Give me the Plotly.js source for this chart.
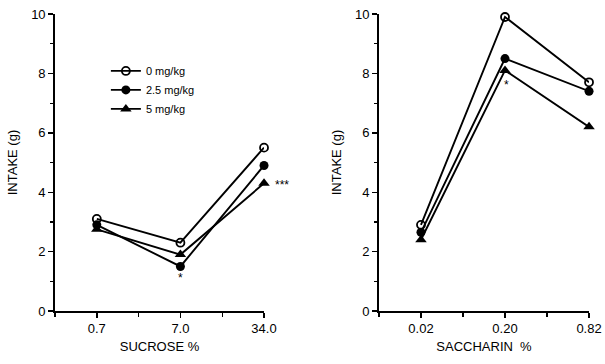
<!DOCTYPE html>
<html>
<head>
<meta charset="utf-8">
<script src="https://cdn.plot.ly/plotly-3.0.1.min.js"></script>
<style>html,body{margin:0;padding:0;background:#fff;}#chart{width:605px;height:364px;}</style>
</head>
<body>
<div id="chart"></div>
<script>
const sucroseCats = ["0.7", "7.0", "34.0"];
const saccharinCats = ["0.02", "0.20", "0.82"];
const seriesNames = ["0 mg/kg", "2.5 mg/kg", "5 mg/kg"];
const sucrose0 = [3.1, 2.3, 5.5];
const sucrose25 = [2.9, 1.5, 4.9];
const sucrose5 = [2.75, 1.9, 4.3];
const saccharin0 = [2.9, 9.9, 7.7];
const saccharin25 = [2.65, 8.5, 7.4];
const saccharin5 = [2.4, 8.1, 6.2];
const yTicks = [0, 2, 4, 6, 8, 10];

const markerStyles = [
  {symbol: "circle-open", size: 8, color: "black", line: {width: 1.8, color: "black"}},
  {symbol: "circle", size: 9, color: "black"},
  {symbol: "triangle-up", size: 10, color: "black"}
];
const idx = sucroseCats.map((c, i) => i);
const leftSets = [sucrose0, sucrose25, sucrose5];
const rightSets = [saccharin0, saccharin25, saccharin5];
const traces = [];
leftSets.forEach((ys, k) => traces.push({
  x: idx, y: ys, xaxis: "x", yaxis: "y", type: "scatter", mode: "lines+markers",
  name: seriesNames[k], line: {color: "black", width: 1.9}, marker: markerStyles[k],
  showlegend: true, cliponaxis: false
}));
rightSets.forEach((ys, k) => traces.push({
  x: idx, y: ys, xaxis: "x2", yaxis: "y2", type: "scatter", mode: "lines+markers",
  name: seriesNames[k], line: {color: "black", width: 1.9}, marker: markerStyles[k],
  showlegend: false, cliponaxis: false
}));

const font = {family: "Liberation Sans, Arial, sans-serif", size: 13, color: "black"};
function xAxis(cats, domain, title) {
  return {
    domain: domain, range: [-0.5, 2], showgrid: false, zeroline: false,
    showline: true, linewidth: 1.8, linecolor: "black",
    tickmode: "array", tickvals: cats.map((c, i) => i), ticktext: cats,
    ticks: "outside", ticklen: 5, tickwidth: 1.4, tickcolor: "black",
    minor: {tick0: 0, dtick: 0.5, ticks: "outside", ticklen: 4, tickwidth: 1.2, tickcolor: "black"},
    tickfont: font, title: {text: title, font: font, standoff: 6}, fixedrange: true
  };
}
function yAxis(anchor) {
  return {
    domain: [0.1456, 0.9615], range: [0, 10], anchor: anchor, showgrid: false, zeroline: false,
    showline: true, linewidth: 1.8, linecolor: "black",
    tickmode: "array", tickvals: yTicks,
    ticks: "outside", ticklen: 5, tickwidth: 1.4, tickcolor: "black",
    minor: {tick0: 0, dtick: 1, ticks: "outside", ticklen: 3, tickwidth: 1.2, tickcolor: "black"},
    tickfont: font, title: {text: "INTAKE (g)", font: font, standoff: 10}, fixedrange: true
  };
}
const layout = {
  width: 605, height: 364,
  margin: {l: 0, r: 0, t: 0, b: 0},
  paper_bgcolor: "white", plot_bgcolor: "white",
  font: font,
  showlegend: true,
  legend: {x: 0.175, y: 0.845, xanchor: "left", yanchor: "top", bgcolor: "rgba(0,0,0,0)",
    font: {family: "Liberation Sans, Arial, sans-serif", size: 11, color: "black"},
    itemwidth: 30, tracegroupgap: 0},
  xaxis: Object.assign(xAxis(sucroseCats, [0.0909, 0.4364], "SUCROSE %"), {anchor: "y"}),
  yaxis: yAxis("x"),
  xaxis2: Object.assign(xAxis(saccharinCats, [0.6264, 0.9736], "SACCHARIN  %"), {anchor: "y2"}),
  yaxis2: yAxis("x2"),
  annotations: [
    {x: 1, y: 1.1, xref: "x", yref: "y", text: "*", showarrow: false, font: {size: 12, color: "black"}},
    {x: 2, y: 4.25, xref: "x", yref: "y", xshift: 18, text: "***", showarrow: false, font: {size: 12, color: "black"}},
    {x: 1.02, y: 7.6, xref: "x2", yref: "y2", text: "*", showarrow: false, font: {size: 12, color: "black"}}
  ]
};
Plotly.newPlot("chart", traces, layout, {displayModeBar: false, staticPlot: true});
</script>
</body>
</html>
